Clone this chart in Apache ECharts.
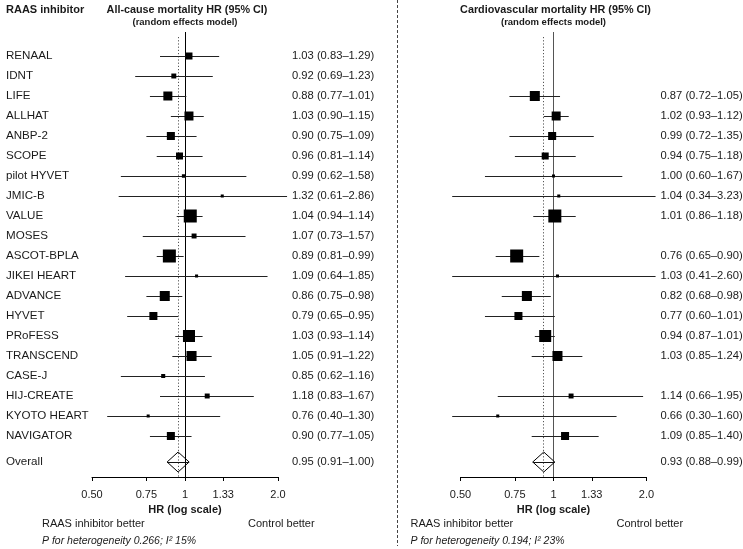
<!DOCTYPE html>
<html><head><meta charset="utf-8">
<script src="https://cdn.jsdelivr.net/npm/echarts@6/dist/echarts.min.js"></script>
<style>html,body{margin:0;padding:0;background:#fff}#c{width:743px;height:549px}</style>
</head><body><div id="c"></div>
<script>
// ---------- data ----------
const studies = ['RENAAL','IDNT','LIFE','ALLHAT','ANBP-2','SCOPE','pilot HYVET','JMIC-B','VALUE','MOSES','ASCOT-BPLA','JIKEI HEART','ADVANCE','HYVET','PRoFESS','TRANSCEND','CASE-J','HIJ-CREATE','KYOTO HEART','NAVIGATOR'];
const acmHR = [1.03,0.92,0.88,1.03,0.90,0.96,0.99,1.32,1.04,1.07,0.89,1.09,0.86,0.79,1.03,1.05,0.85,1.18,0.76,0.90];
const acmLo = [0.83,0.69,0.77,0.90,0.75,0.81,0.62,0.61,0.94,0.73,0.81,0.64,0.75,0.65,0.93,0.91,0.62,0.83,0.40,0.77];
const acmHi = [1.29,1.23,1.01,1.15,1.09,1.14,1.58,2.86,1.14,1.57,0.99,1.85,0.98,0.95,1.14,1.22,1.16,1.67,1.30,1.05];
const acmWeight = [4.8,2.4,7.9,7.9,6.3,4.8,1.2,0.9,16.5,2.4,16.5,0.9,9.8,6.3,14.1,9.8,1.6,2.4,0.9,6.3];
const acmOverall = [0.95,0.91,1.00];
const cvHR = [null,null,0.87,1.02,0.99,0.94,1.00,1.04,1.01,null,0.76,1.03,0.82,0.77,0.94,1.03,null,1.14,0.66,1.09];
const cvLo = [null,null,0.72,0.93,0.72,0.75,0.60,0.34,0.86,null,0.65,0.41,0.68,0.60,0.87,0.85,null,0.66,0.30,0.85];
const cvHi = [null,null,1.05,1.12,1.35,1.18,1.67,3.23,1.18,null,0.90,2.60,0.98,1.01,1.01,1.24,null,1.95,1.60,1.40];
const cvWeight = [null,null,9.8,7.9,6.3,4.8,0.9,0.9,16.5,null,16.5,0.9,9.8,6.3,14.1,9.8,null,2.4,0.9,6.3];
const cvOverall = [0.93,0.88,0.99];
const tickValues = [0.5,0.75,1,1.33,2.0];
const tickLabels = ['0.50','0.75','1','1.33','2.0'];
const panelTitles = ['All-cause mortality HR (95% CI)','Cardiovascular mortality HR (95% CI)'];
const heterogeneity = ['P for heterogeneity 0.266; I\u00B2 15%','P for heterogeneity 0.194; I\u00B2 23%'];

// ---------- layout ----------
const FONT = '"Liberation Sans", Arial, Helvetica, sans-serif';
const AXW = 186, TOP = 32, BOTTOM = 72;
const YMIN = -1.2, YMAX = 21.05, OVERALL_ROW = 20.3;
const BOX_SCALE = 3.2;
const TXT = '#1a1a1a';
const panels = [
  {hr:acmHR, lo:acmLo, hi:acmHi, w:acmWeight, overall:acmOverall, left:92, clip:[0.56,2.14], names:true, refColor:'#000'},
  {hr:cvHR, lo:cvLo, hi:cvHi, w:cvWeight, overall:cvOverall, left:460.5, clip:[0.47,2.14], names:false, refColor:'#555'}
];
const crisp = v => Math.floor(v) + 0.5;
const fmt = v => v.toFixed(2);
const L2 = Math.log2;

const grids = [], xAxes = [], yAxes = [], series = [];
panels.forEach((p, k) => {
  grids.push({left:p.left, width:AXW, top:TOP, bottom:BOTTOM});
  xAxes.push({
    gridIndex:k, type:'value', min:-1, max:1, position:'bottom',
    axisLine:{show:true, onZero:false, lineStyle:{color:'#000', width:1}},
    axisTick:{show:true, customValues:tickValues.map(L2), length:4, lineStyle:{color:'#000'}},
    axisLabel:{customValues:tickValues.map(L2), margin:12, fontSize:11, fontFamily:FONT, color:TXT,
      formatter: v => { const i = tickValues.findIndex(t => Math.abs(L2(t)-v) < 1e-6); return i >= 0 ? tickLabels[i] : ''; }},
    splitLine:{show:false},
    name:'HR (log scale)', nameLocation:'middle', nameGap:27,
    nameTextStyle:{fontWeight:'bold', fontSize:11, fontFamily:FONT, color:TXT}
  });
  yAxes.push({gridIndex:k, type:'value', min:YMIN, max:YMAX, inverse:true, show:false});

  const rows = [];
  studies.forEach((s, i) => { if (p.hr[i] != null) rows.push([p.hr[i], i, p.lo[i], p.hi[i], p.w[i], 0, s]); });
  rows.push([p.overall[0], OVERALL_ROW, p.overall[1], p.overall[2], 0, 1, 'Overall']);

  // reference lines (HR = 1 and overall estimate)
  series.push({
    type:'custom', xAxisIndex:k, yAxisIndex:k, z:1, silent:true,
    data:[[0, YMIN], [L2(p.overall[0]), -0.95]],
    renderItem(params, api) {
      const i = params.dataIndex;
      const x = api.value(0);
      const a = api.coord([x, api.value(1)]), b = api.coord([x, YMAX]);
      const xx = crisp(a[0]);
      return {type:'line', shape:{x1:xx, y1:a[1], x2:xx, y2:b[1]},
        style:{stroke: i === 0 ? p.refColor : '#555', lineWidth:1, lineDash: i === 0 ? null : [1.2, 2]}};
    }
  });

  // studies + overall
  series.push({
    type:'custom', xAxisIndex:k, yAxisIndex:k, z:2, silent:true,
    data: rows.map(r => [L2(r[0]), r[1]]),
    renderItem(params, api) {
      const [hr, row, lo, hi, w, ov, name] = rows[params.dataIndex];
      const cs = params.coordSys;
      const c = api.coord([L2(hr), row]);
      const y = crisp(c[1]);
      const ch = [];
      ch.push({type:'text', style:{text: fmt(hr) + ' (' + fmt(lo) + '\u2013' + fmt(hi) + ')',
        x: cs.x + cs.width + 14, y: c[1], align:'left', verticalAlign:'middle', font:'11.2px ' + FONT, fill:TXT}});
      if (p.names) ch.push({type:'text', style:{text:name, x:6, y:c[1], align:'left', verticalAlign:'middle', font:'11.6px ' + FONT, fill:TXT}});
      if (ov) {
        const hw = 11, hh = 10;
        ch.push({type:'polygon', shape:{points:[[c[0]-hw, c[1]], [c[0], c[1]-hh], [c[0]+hw, c[1]], [c[0], c[1]+hh]]},
          style:{fill:'none', stroke:'#000', lineWidth:1}});
        ch.push({type:'line', shape:{x1:c[0]-hw, y1:y, x2:c[0]+hw, y2:y}, style:{stroke:'#111', lineWidth:1}});
      } else {
        const l = api.coord([L2(Math.max(lo, p.clip[0])), row]);
        const r = api.coord([L2(Math.min(hi, p.clip[1])), row]);
        ch.push({type:'line', shape:{x1:l[0], y1:y, x2:r[0], y2:y}, style:{stroke:'#222', lineWidth:1}});
        const s = BOX_SCALE * Math.sqrt(w);
        ch.push({type:'rect', shape:{x:c[0]-s/2, y:c[1]-s/2, width:s, height:s}, style:{fill:'#000'}});
      }
      return {type:'group', children:ch};
    }
  });
});

// ---------- texts ----------
const graphic = [
  {type:'text', style:{text:'RAAS inhibitor', x:6, y:10, align:'left', verticalAlign:'middle', font:'bold 11px ' + FONT, fill:TXT}},
  {type:'line', shape:{x1:397.5, y1:0, x2:397.5, y2:546}, style:{stroke:'#444', lineWidth:1, lineDash:[3,2]}}
];
panels.forEach((p, k) => {
  const cx = p.left + AXW / 2;
  graphic.push({type:'text', style:{text:panelTitles[k], x:cx + 2, y:10, align:'center', verticalAlign:'middle', font:'bold 10.8px ' + FONT, fill:TXT}});
  graphic.push({type:'text', style:{text:'(random effects model)', x:cx, y:22.5, align:'center', verticalAlign:'middle', font:'bold 9.5px ' + FONT, fill:TXT}});
  graphic.push({type:'text', style:{text:'RAAS inhibitor better', x:p.left - 50, y:524, align:'left', verticalAlign:'middle', font:'11px ' + FONT, fill:TXT}});
  graphic.push({type:'text', style:{text:'Control better', x:p.left + AXW - 30, y:524, align:'left', verticalAlign:'middle', font:'11px ' + FONT, fill:TXT}});
  graphic.push({type:'text', style:{text:heterogeneity[k], x:p.left - 50, y:541, align:'left', verticalAlign:'middle', font:'italic 10.5px ' + FONT, fill:TXT}});
});

const chart = echarts.init(document.getElementById('c'), null, {renderer:'canvas'});
chart.setOption({animation:false, backgroundColor:'#fff', grid:grids, xAxis:xAxes, yAxis:yAxes, series, graphic});
</script>
</body></html>
